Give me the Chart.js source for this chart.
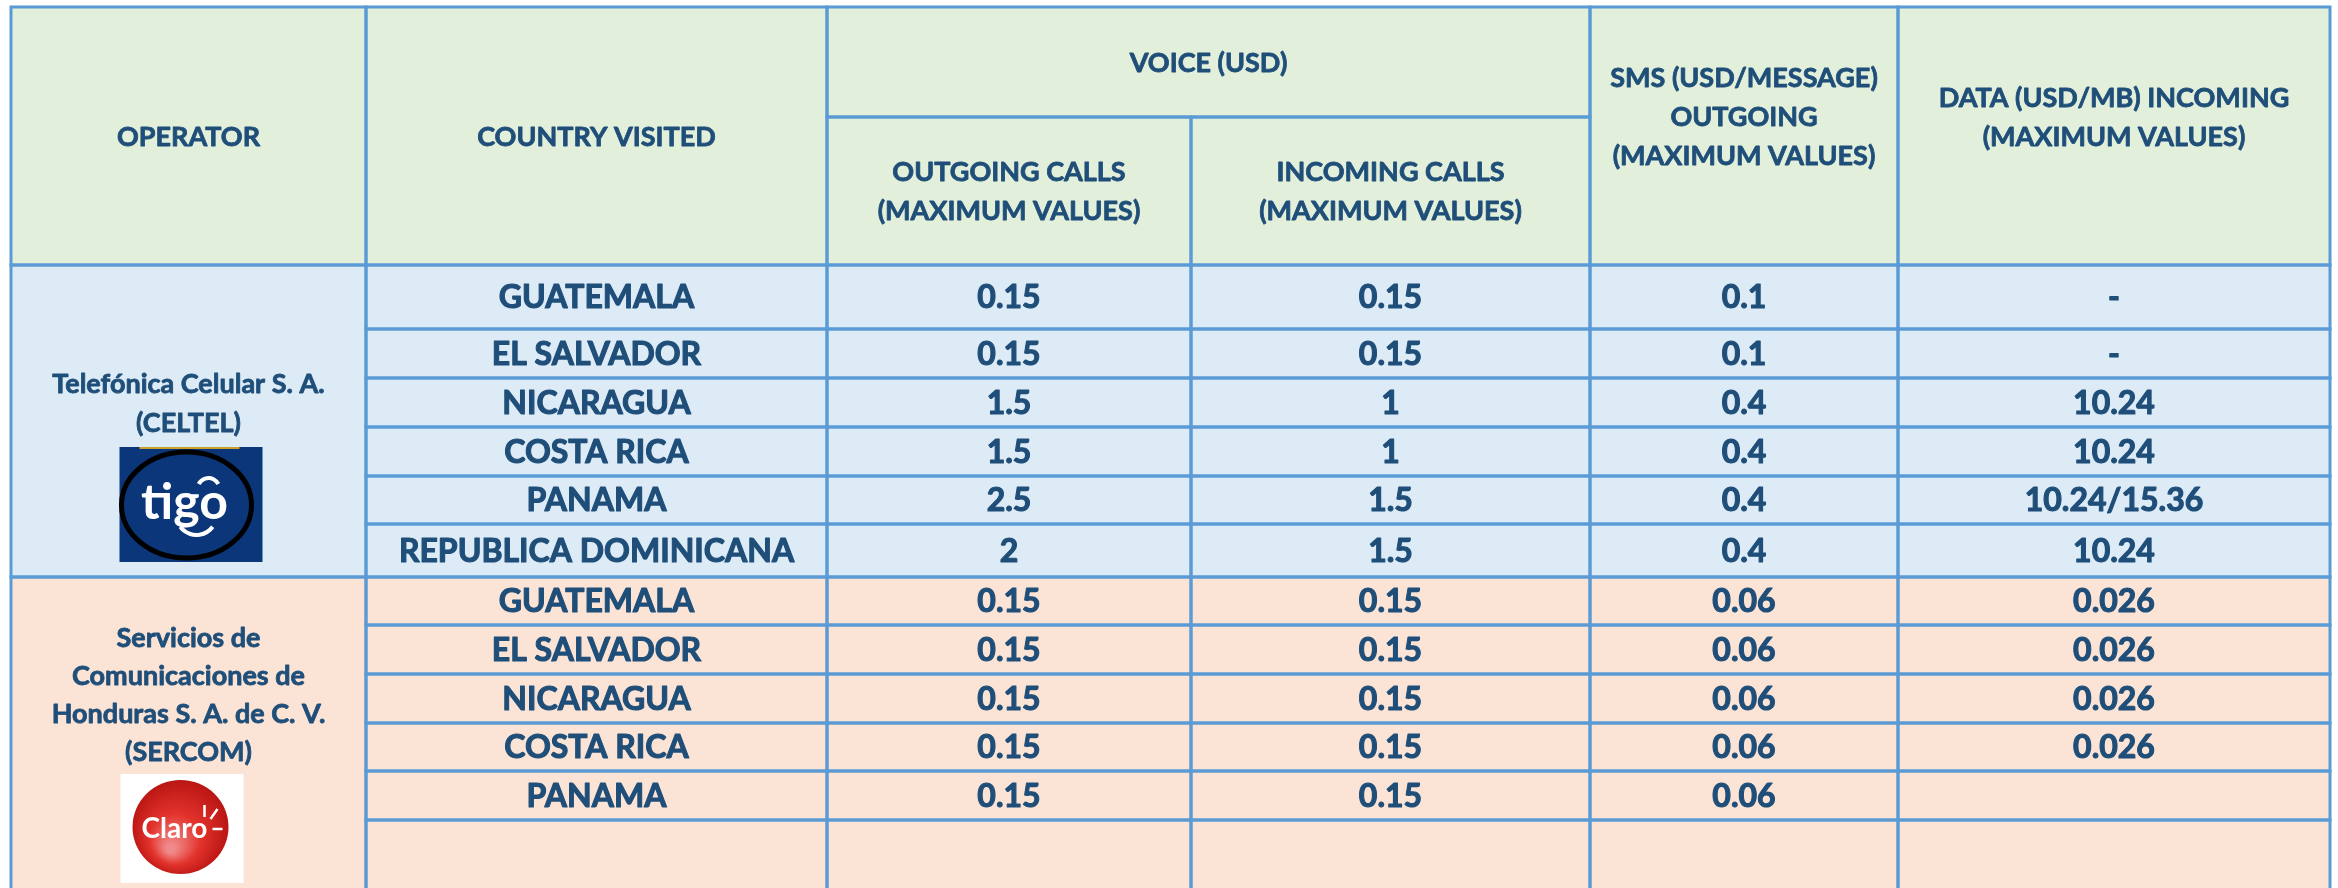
<!DOCTYPE html>
<html>
<head>
<meta charset="utf-8">
<script src="https://cdn.jsdelivr.net/npm/chart.js@4.4.1/dist/chart.umd.min.js"></script>
<style>
  html, body { margin: 0; padding: 0; background: #ffffff; }
  #wrap { width: 2338px; height: 888px; }
</style>
</head>
<body>
<div id="wrap"><canvas id="tableChart" width="2338" height="888"></canvas></div>
<script>
// --- DATA ---
const headerTop = ['OPERATOR', 'COUNTRY VISITED', 'VOICE (USD)', 'SMS (USD/MESSAGE)\nOUTGOING\n(MAXIMUM VALUES)\n', 'DATA (USD/MB) INCOMING\n(MAXIMUM VALUES)\n'];
const headerVoice = ['OUTGOING CALLS\n(MAXIMUM VALUES)', 'INCOMING CALLS\n(MAXIMUM VALUES)'];

const operators = ['Telefónica Celular S. A.\n(CELTEL)', 'Servicios de\nComunicaciones de\nHonduras S. A. de C. V.\n(SERCOM)'];

const celtelCountries = ['GUATEMALA', 'EL SALVADOR', 'NICARAGUA', 'COSTA RICA', 'PANAMA', 'REPUBLICA DOMINICANA'];
const celtelOutgoing = ['0.15', '0.15', '1.5', '1.5', '2.5', '2'];
const celtelIncoming = ['0.15', '0.15', '1', '1', '1.5', '1.5'];
const celtelSms = ['0.1', '0.1', '0.4', '0.4', '0.4', '0.4'];
const celtelData = ['-', '-', '10.24', '10.24', '10.24/15.36', '10.24'];

const sercomCountries = ['GUATEMALA', 'EL SALVADOR', 'NICARAGUA', 'COSTA RICA', 'PANAMA', ''];
const sercomOutgoing = ['0.15', '0.15', '0.15', '0.15', '0.15', ''];
const sercomIncoming = ['0.15', '0.15', '0.15', '0.15', '0.15', ''];
const sercomSms = ['0.06', '0.06', '0.06', '0.06', '0.06', ''];
const sercomData = ['0.026', '0.026', '0.026', '0.026', '', ''];

// --- LAYOUT (table geometry in scale units) ---
const tableLeft = 11;
const colWidths = [355, 461, 364, 399, 308, 432];
const tableTop = 7;
const headerSplit = 110;   // height of the VOICE (USD) band
const headerHeight = 258;
const rowHeights = [64, 49, 49, 49, 48, 53, 48, 49, 49, 48, 49, 80];

const C = {
  border: '#5b9bd5',
  text: '#1f4e79',
  head: '#e2efda',
  blue: '#ddebf7',
  peach: '#fbe4d6'
};
const FONT = 'Lato, "Open Sans", "DejaVu Sans", sans-serif';

function colEdges() {
  const e = [tableLeft];
  colWidths.forEach(w => e.push(e[e.length - 1] + w));
  return e;
}
function rowEdges() {
  const e = [tableTop + headerHeight];
  rowHeights.forEach(h => e.push(e[e.length - 1] + h));
  return e;
}

// --- DRAWING ---
function cell(ctx, xs, ys, x0, x1, y0, y1, fill) {
  const l = xs.getPixelForValue(x0), r = xs.getPixelForValue(x1);
  const t = ys.getPixelForValue(y0), b = ys.getPixelForValue(y1);
  ctx.fillStyle = fill;
  ctx.fillRect(l, t, r - l, b - t);
  return { l, r, t, b, cx: (l + r) / 2, cy: (t + b) / 2 };
}

function lines(ctx, txt, cx, cy, size, lh) {
  if (!txt) return;
  const parts = txt.split('\n');
  ctx.font = 'bold ' + size + 'px ' + FONT;
  ctx.fillStyle = C.text;
  ctx.strokeStyle = C.text;
  ctx.lineWidth = size > 30 ? 1.1 : 0.8;
  ctx.lineJoin = 'round';
  ctx.textAlign = 'center';
  ctx.textBaseline = 'middle';
  const start = cy - (parts.length - 1) * lh / 2;
  parts.forEach((p, i) => {
    ctx.fillText(p, cx, start + i * lh + 1);
    ctx.strokeText(p, cx, start + i * lh + 1);
  });
}

function drawTigo(ctx, cx, top) {
  const w = 143, h = 115, l = cx - 69;
  ctx.fillStyle = '#0b367a';
  ctx.fillRect(l, top, w, h);
  ctx.fillStyle = '#c9a227';
  ctx.fillRect(l + 20, top, 100, 2);
  const ex = l + 67, ey = top + 58;
  ctx.strokeStyle = '#000000';
  ctx.lineWidth = 5;
  ctx.beginPath();
  ctx.ellipse(ex, ey, 65, 53, 0, 0, Math.PI * 2);
  ctx.stroke();
  ctx.fillStyle = '#ffffff';
  ctx.font = 'bold 50px ' + FONT;
  ctx.textAlign = 'center';
  ctx.textBaseline = 'middle';
  ctx.fillText('tigo', ex - 2, ey - 2);
  ctx.strokeStyle = '#ffffff';
  ctx.lineWidth = 4;
  ctx.beginPath();
  ctx.arc(ex + 22, ey - 16, 11, Math.PI * 1.15, Math.PI * 1.85);
  ctx.stroke();
  ctx.beginPath();
  ctx.arc(ex + 10, ey + 10, 20, Math.PI * 0.2, Math.PI * 0.8);
  ctx.stroke();
}

function drawClaro(ctx, cx, top) {
  const w = 123, h = 109, l = cx - 68;
  ctx.fillStyle = '#ffffff';
  ctx.fillRect(l, top, w, h);
  const ex = l + 60, ey = top + 53;
  const g = ctx.createRadialGradient(ex - 10, ey + 22, 4, ex, ey, 52);
  g.addColorStop(0, '#f08a8a');
  g.addColorStop(0.45, '#e3322c');
  g.addColorStop(1, '#b3120f');
  ctx.fillStyle = g;
  ctx.beginPath();
  ctx.ellipse(ex, ey, 48, 47, 0, 0, Math.PI * 2);
  ctx.fill();
  ctx.fillStyle = '#ffffff';
  ctx.font = 'bold 28px ' + FONT;
  ctx.textAlign = 'center';
  ctx.textBaseline = 'middle';
  ctx.fillText('Claro', ex - 6, ey + 2);
  ctx.strokeStyle = '#ffffff';
  ctx.lineWidth = 2.5;
  ctx.beginPath();
  ctx.moveTo(ex + 24, ey - 10); ctx.lineTo(ex + 24, ey - 22);
  ctx.moveTo(ex + 30, ey - 8); ctx.lineTo(ex + 37, ey - 18);
  ctx.moveTo(ex + 32, ey + 2); ctx.lineTo(ex + 42, ey + 2);
  ctx.stroke();
}

const tablePlugin = {
  id: 'tablePlugin',
  beforeDatasetsDraw(chart) {
    const ctx = chart.ctx;
    const xs = chart.scales.x, ys = chart.scales.y;
    const ce = colEdges(), re = rowEdges();
    const hb = tableTop + headerHeight, hm = tableTop + headerSplit;
    const borders = [];

    ctx.save();
    // header
    const hc = [];
    hc.push(cell(ctx, xs, ys, ce[0], ce[1], tableTop, hb, C.head));
    hc.push(cell(ctx, xs, ys, ce[1], ce[2], tableTop, hb, C.head));
    hc.push(cell(ctx, xs, ys, ce[2], ce[4], tableTop, hm, C.head));
    hc.push(cell(ctx, xs, ys, ce[4], ce[5], tableTop, hb, C.head));
    hc.push(cell(ctx, xs, ys, ce[5], ce[6], tableTop, hb, C.head));
    const vc = [cell(ctx, xs, ys, ce[2], ce[3], hm, hb, C.head), cell(ctx, xs, ys, ce[3], ce[4], hm, hb, C.head)];
    borders.push(...hc, ...vc);

    // body: two operator blocks of six rows
    const blocks = [
      { fill: C.blue, cols: [celtelCountries, celtelOutgoing, celtelIncoming, celtelSms, celtelData] },
      { fill: C.peach, cols: [sercomCountries, sercomOutgoing, sercomIncoming, sercomSms, sercomData] }
    ];
    const opCells = [];
    const bodyText = [];
    blocks.forEach((b, bi) => {
      const r0 = bi * 6;
      const oc = cell(ctx, xs, ys, ce[0], ce[1], re[r0], re[r0 + 6], b.fill);
      opCells.push(oc);
      borders.push(oc);
      for (let r = 0; r < 6; r++) {
        b.cols.forEach((col, ci) => {
          const c = cell(ctx, xs, ys, ce[ci + 1], ce[ci + 2], re[r0 + r], re[r0 + r + 1], b.fill);
          borders.push(c);
          bodyText.push([col[r], c.cx, c.cy]);
        });
      }
    });

    // borders
    ctx.strokeStyle = C.border;
    ctx.lineWidth = 3;
    borders.forEach(c => ctx.strokeRect(c.l, c.t, c.r - c.l, c.b - c.t));

    bodyText.forEach(t => lines(ctx, t[0], t[1], t[2], 32, 38));

    // header text
    hc.forEach((c, i) => lines(ctx, headerTop[i], c.cx, c.cy, 27, 39));
    vc.forEach((c, i) => lines(ctx, headerVoice[i], c.cx, c.cy, 27, 39));

    // operator names + logos
    lines(ctx, operators[0], opCells[0].cx, opCells[0].t + 138, 27, 39);
    drawTigo(ctx, opCells[0].cx, opCells[0].t + 182);
    lines(ctx, operators[1], opCells[1].cx, opCells[1].t + 117, 27, 38);
    drawClaro(ctx, opCells[1].cx, opCells[1].t + 197);
    ctx.restore();
  }
};

const W = 2338, H = 888;
const myChart = new Chart(document.getElementById('tableChart').getContext('2d'), {
  type: 'scatter',
  data: { datasets: [{ data: [], showLine: false }] },
  options: {
    responsive: false,
    animation: false,
    devicePixelRatio: 1,
    layout: { padding: 0 },
    plugins: { legend: { display: false }, tooltip: { enabled: false } },
    scales: {
      x: { type: 'linear', min: 0, max: W, display: false },
      y: { type: 'linear', min: 0, max: H, reverse: true, display: false }
    }
  },
  plugins: [tablePlugin]
});
</script>
</body>
</html>
